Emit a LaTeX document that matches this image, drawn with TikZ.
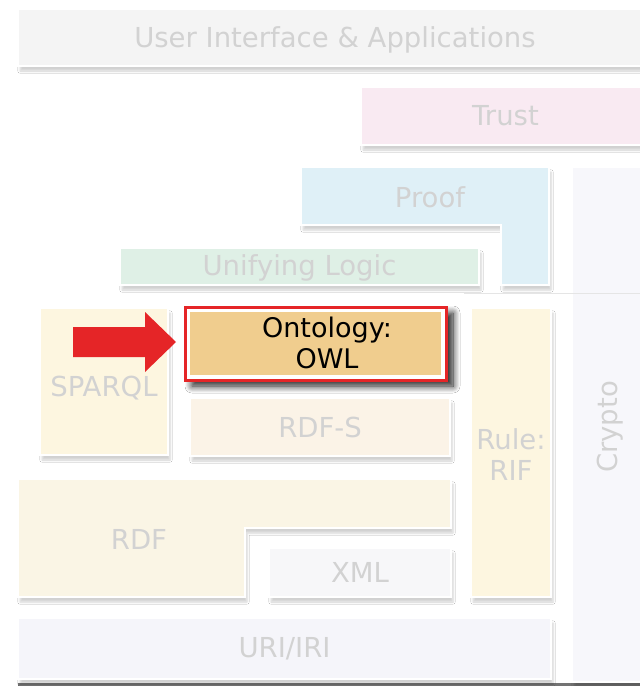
\documentclass[tikz,border=0pt]{standalone}
\usepackage{fontspec}
\setmainfont{DejaVu Sans}
\usetikzlibrary{shadows.blur}
\definecolor{lblgray}{HTML}{D2D2D2}
\definecolor{uifill}{HTML}{F4F4F4}
\definecolor{trustfill}{HTML}{F9EAF2}
\definecolor{prooffill}{HTML}{DFF0F7}
\definecolor{logicfill}{HTML}{DFF0E6}
\definecolor{sparqlfill}{HTML}{FDF6E0}
\definecolor{owlfill}{HTML}{F0CD8E}
\definecolor{rdfsfill}{HTML}{FBF3E7}
\definecolor{riffill}{HTML}{FDF6E0}
\definecolor{rdffill}{HTML}{FAF5E5}
\definecolor{xmlfill}{HTML}{F7F7F9}
\definecolor{urifill}{HTML}{F5F5FA}
\definecolor{cryptofill}{HTML}{F7F7FB}
\definecolor{hired}{HTML}{E52527}
\tikzset{
  box/.style={draw=white, line width=2pt, blur shadow={shadow xshift=2pt, shadow yshift=-5pt, shadow blur steps=6, shadow opacity=18}},
  lbl/.style={text=lblgray, font=\fontsize{27.5}{31}\selectfont, align=center, inner sep=0pt},
  blk/.style={text=black, font=\fontsize{27}{31}\selectfont, align=center, inner sep=0pt},
}
\begin{document}
\begin{tikzpicture}[x=1pt,y=-1pt]
\useasboundingbox (0,0) rectangle (640,686);
\fill[white] (0,0) rectangle (640,686);
% bottom line
\fill[black!55] (18,683) rectangle (640,686);
% crypto panel
\draw[box, fill=cryptofill] (572,167) rectangle (642,682);
\node[lbl, rotate=90] (crypto) at (610,427) {Crypto};
\fill[white, opacity=0.6] (464,292) rectangle (572,600);
\draw[white!90!black, line width=0.8pt] (464,293) -- (640,293);
% UI
\draw[box, fill=uifill] (18,9) rectangle (642,66) node[midway, lbl, xshift=5pt, yshift=-2pt] (ui) {User Interface \& Applications};
% Trust
\draw[box, fill=trustfill] (361,87) rectangle (642,145) node[midway, lbl, xshift=4pt] (trust) {Trust};
% Proof L-shape
\draw[box, fill=prooffill] (301,167) -- (549,167) -- (549,285) -- (501,285) -- (501,225) -- (301,225) -- cycle;
\node[lbl] (proof) at (430,197) {Proof};
% Unifying logic
\draw[box, fill=logicfill] (120,248) rectangle (479,285) node[midway, lbl, yshift=-1pt] (logic) {Unifying Logic};
% SPARQL
\draw[box, fill=sparqlfill] (40,308) rectangle (168,455);
\node[lbl] (sparql) at (104,388) {SPARQL};
% RDF-S
\draw[box, fill=rdfsfill] (190,398) rectangle (450,456) node[midway, lbl] (rdfs) {RDF-S};
% Rule RIF
\draw[box, fill=riffill] (471,308) rectangle (551,597) node[midway, lbl, yshift=-2pt] (rif) {Rule:\\RIF};
% RDF L-shape
\draw[box, fill=rdffill] (18,479) -- (451,479) -- (451,528) -- (245,528) -- (245,597) -- (18,597) -- cycle;
\node[lbl] (rdf) at (139,539) {RDF};
% XML
\draw[box, fill=xmlfill] (269,548) rectangle (451,597) node[midway, lbl] (xml) {XML};
% URI
\draw[box, fill=urifill] (18,618) rectangle (551,679) node[midway, lbl] (uri) {URI/IRI};
% Ontology OWL highlighted
\draw[draw=hired, line width=3pt, fill=white, blur shadow={shadow xshift=7pt, shadow yshift=-6pt, shadow blur steps=10, shadow blur radius=7pt, shadow opacity=90}] (185,307) rectangle (446,380);
\fill[owlfill] (190,312) rectangle (441,375);
\node[blk] (owl) at (327,343) {Ontology:\\OWL};
% red arrow
\fill[hired] (73,327) -- (145,327) -- (145,312) -- (176,342) -- (145,372) -- (145,357) -- (73,357) -- cycle;
\end{tikzpicture}
\end{document}
